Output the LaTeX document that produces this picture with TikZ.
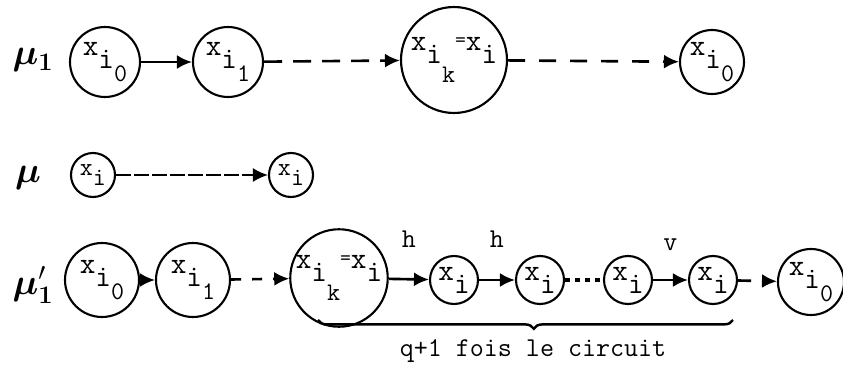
\documentclass[tikz,border=0pt]{standalone}
\usepackage{amsmath}
\usepackage{bm}
\usepackage{tikz}
\usetikzlibrary{positioning, arrows.meta, decorations.pathreplacing}

\newcommand{\xii}[2][1.0ex]{x\raisebox{-1.0ex}{i\raisebox{-#1}{\Large #2}}}
\newcommand{\xone}{x\raisebox{-1.0ex}{i}}

\begin{document}
\begin{tikzpicture}[x=0.02cm, y=-0.02cm,
  state/.style={circle, draw, line width=1.2pt, inner sep=0pt, font=\ttfamily\LARGE},
  link/.style={-{Latex[length=3mm,width=2.8mm]}, line width=1.5pt},
  rowlabel/.style={font=\huge},
  tag/.style={font=\ttfamily\fontsize{15.5}{18}\selectfont}]
  \useasboundingbox (0,0) rectangle (843,365);

  % first row
  \node[rowlabel] (mu1) at (33,60) {$\bm{\mu}_{\mathbf{1}}$};
  \node[state, minimum size=1.4cm] (a0) at (105,62) {\xii{0}};
  \node[state, minimum size=1.4cm] (a1) at (228,62) {\xii{1}};
  \node[state, minimum size=2.12cm] (ak) at (454,60) {\xii[1.5ex]{k}\raisebox{0.3ex}{\large=}\xone};
  \node[state, minimum size=1.28cm] (aend) at (712,62) {\xii{0}};
  \draw[link] (a0) -- (a1);
  \draw[link, dash pattern=on 0.36cm off 0.22cm] (a1) -- (ak);
  \draw[link, dash pattern=on 0.34cm off 0.28cm] (ak) -- (aend);

  % second row
  \node[rowlabel] (mu) at (28,178) {$\bm{\mu}$};
  \node[state, minimum size=0.88cm, font=\ttfamily\Large] (b0) at (93,175) {\xone};
  \node[state, minimum size=0.88cm, font=\ttfamily\Large] (b1) at (291,175) {\xone};
  \draw[link, line width=1.1pt, dash pattern=on 0.3cm off 0.06cm] (b0) -- (b1);

  % third row
  \node[rowlabel] (mu1p) at (33,285) {$\bm{\mu}'_{\mathbf{1}}$};
  \node[state, minimum size=1.48cm] (c0) at (102,280) {\xii{0}};
  \node[state, minimum size=1.48cm] (c1) at (193,280) {\xii{1}};
  \node[state, minimum size=1.94cm] (ck) at (339,278) {\xii[1.5ex]{k}\raisebox{0.3ex}{\large=}\xone};
  \foreach \n/\xpos in {p/454, q/540, r/628, s/713} {
    \node[state, minimum size=0.96cm] (c\n) at (\xpos,280) {\xone};
  }
  \node[state, minimum size=1.32cm] (cend) at (811,282) {\xii{0}};
  \draw[link] (c0) -- (c1);
  \draw[link, dash pattern=on 0.2cm off 0.22cm] (c1) -- (ck);
  \draw[link] (ck) -- node[tag, above=0.5cm] {h} (cp);
  \draw[link] (cp) -- node[tag, above=0.5cm] {h} (cq);
  \draw[line width=2pt, dash pattern=on 0.1cm off 0.1cm] (cq) -- (cr);
  \draw[link] (cr) -- node[tag, above=0.45cm] {v} (cs);
  \draw[link, dash pattern=on 0.26cm off 0.3cm] (cs) -- (cend);

  % brace under the circuit
  \coordinate (brl) at (318,320);
  \coordinate (brr) at (733,320);
  \draw[line width=1.4pt, decorate, decoration={brace, mirror, amplitude=5pt, aspect=0.52}] (brl) -- (brr);
  \node[tag] (circ) at (533,351) {q+1 fois le circuit};
\end{tikzpicture}
\end{document}
